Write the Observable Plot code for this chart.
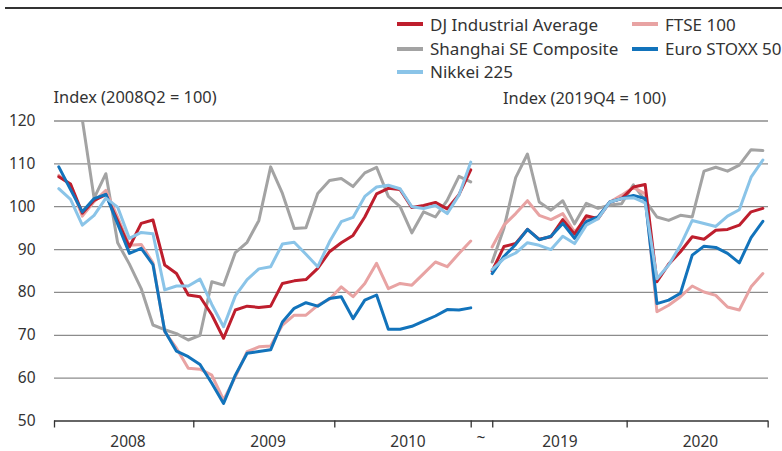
<!DOCTYPE html>
<html><head><meta charset="utf-8">
<script src="https://cdn.jsdelivr.net/npm/d3@7"></script>
<script src="https://cdn.jsdelivr.net/npm/@observablehq/plot@0.6"></script>
<style>
body{margin:0;background:#fff;font-family:"Noto Sans",sans-serif;color:#333}
#wrap{position:relative;width:782px;height:451px;overflow:hidden}
#rule{position:absolute;left:5px;right:0;top:7px;height:2px;background:#333}
#chart{position:absolute;left:0;top:0}
#legend{position:absolute;left:0;top:0;width:782px;height:90px}
.item{position:absolute;height:24px;display:flex;align-items:center;font-size:17px;white-space:nowrap;color:#333}
.sw{width:26px;height:4px;margin-right:7px;flex:none}
</style></head>
<body><div id="wrap"><div id="chart"></div><div id="rule"></div><div id="legend"></div></div>
<script>
// Series names, in legend order
const seriesNames = ["DJ Industrial Average", "FTSE 100", "Shanghai SE Composite", "Euro STOXX 50", "Nikkei 225"];
const seriesColors = ["#be1e2d", "#e8a3a3", "#a3a3a3", "#1273bb", "#8ac4e8"];

// Left panel: monthly, 2008-2010 (2008Q2 = 100)
const djLeft = [107, 105.3, 98.5, 101.5, 102.8, 96.7, 90.6, 96.1, 96.9, 86.4, 84.4, 79.4, 79.0, 74.8, 69.3, 75.9, 76.8, 76.5, 76.8, 82.1, 82.7, 83.0, 85.6, 89.5, 91.6, 93.3, 97.6, 103.0, 104.3, 104.0, 99.8, 100.3, 101.0, 99.5, 102.8, 108.6];
const ftseLeft = [107.3, 105, 97.8, 101.2, 103.8, 97.5, 91.0, 91.2, 86.9, 70.8, 67.0, 62.3, 62.1, 60.7, 54.9, 60.3, 66.2, 67.3, 67.5, 72.4, 74.7, 74.7, 77.0, 78.4, 81.3, 79.0, 82.1, 86.8, 80.9, 82.1, 81.7, 84.4, 87.1, 86.0, 89.1, 92.0];
const shanghaiLeft = [145, 133, 120.3, 102.0, 107.7, 91.6, 86.6, 80.9, 72.4, 71.3, 70.4, 68.9, 70.0, 82.5, 81.7, 89.3, 91.7, 96.8, 109.3, 103.1, 94.9, 95.1, 103.1, 106.1, 106.6, 104.7, 107.9, 109.2, 102.4, 100.0, 93.9, 98.8, 97.6, 101.5, 107.1, 105.8];
const euroLeft = [109.3, 104, 98.8, 101.9, 102.9, 96, 89.1, 90.3, 86.5, 71.0, 66.3, 65.0, 63.2, 58.8, 54.1, 60.7, 65.8, 66.2, 66.6, 73.1, 76.3, 77.6, 76.8, 78.6, 79.0, 73.9, 78.2, 79.4, 71.4, 71.4, 72.1, 73.3, 74.5, 76.0, 75.9, 76.4];
const nikkeiLeft = [104.2, 101.7, 95.7, 98.0, 102.0, 99.9, 92.6, 94.0, 93.7, 80.6, 81.5, 81.5, 83.1, 77.2, 72.0, 79.2, 83.0, 85.5, 86.0, 91.3, 91.7, 88.9, 86.0, 91.8, 96.5, 97.5, 102.4, 104.6, 105.0, 104.2, 100.0, 99.6, 100.3, 98.4, 102.7, 110.4];

// Right panel: monthly, 2019-2020 (2019Q4 = 100)
const djRight = [85.0, 90.7, 91.4, 94.7, 92.4, 93.0, 97.0, 93.6, 97.9, 97.2, 101.1, 101.9, 104.6, 105.2, 82.5, 86.6, 89.5, 93.0, 92.4, 94.5, 94.7, 95.7, 98.8, 99.6];
const ftseRight = [90.6, 95.7, 98.4, 101.4, 98.0, 97.0, 98.4, 94.1, 97.2, 97.6, 101.1, 102.7, 104.5, 103.0, 75.5, 77.0, 79.0, 81.5, 80.1, 79.3, 76.6, 75.9, 81.3, 84.4];
const shanghaiRight = [87.1, 95.0, 106.8, 112.3, 101.1, 99.2, 101.4, 96.0, 100.8, 99.6, 100.4, 100.7, 105.1, 101.5, 97.6, 96.8, 98.0, 97.6, 108.3, 109.2, 108.3, 109.7, 113.3, 113.1];
const euroRight = [84.4, 88.4, 91.2, 94.7, 92.3, 93.1, 96.1, 92.6, 96.5, 97.6, 101.1, 101.9, 102.6, 101.9, 77.4, 78.2, 79.8, 88.7, 90.8, 90.5, 89.1, 86.9, 92.8, 96.6];
const nikkeiRight = [85.3, 87.9, 89.2, 91.6, 91.0, 90.0, 93.1, 91.4, 95.7, 97.2, 101.1, 101.9, 102.1, 100.9, 83.2, 86.4, 91.0, 96.8, 96.1, 95.4, 97.8, 99.3, 106.9, 110.9];

// Axis labels
const yTicks = [50, 60, 70, 80, 90, 100, 110, 120];
const yearLabels = ["2008", "2009", "2010", "2019", "2020"];
const leftTitle = "Index (2008Q2 = 100)";
const rightTitle = "Index (2019Q4 = 100)";

// ---- layout (month-slot coordinates) ----
const RIGHT_START = 36.82;
const boundaries = [-0.365, 11.47, 23.45, 35.04, 36.87, 48.29, 60.27];
const yearLabelPos = [5.88, 17.78, 29.67, 42.58, 54.52];
const breakPos = 35.87;

const leftSets = [djLeft, ftseLeft, shanghaiLeft, euroLeft, nikkeiLeft];
const rightSets = [djRight, ftseRight, shanghaiRight, euroRight, nikkeiRight];
const drawOrder = [2, 1, 0, 3, 4];

const rows = [];
for (const k of drawOrder) {
  leftSets[k].forEach((v, i) => rows.push({s: seriesNames[k], seg: seriesNames[k] + "L", pos: i, v}));
  rightSets[k].forEach((v, j) => rows.push({s: seriesNames[k], seg: seriesNames[k] + "R", pos: RIGHT_START + j, v}));
}

const chart = Plot.plot({
  width: 782, height: 451,
  marginLeft: 54, marginRight: 14, marginTop: 120.5, marginBottom: 30.5,
  style: {fontFamily: "Noto Sans", fontSize: "15.5px", color: "#333", background: "white"},
  x: {domain: [-0.365, 60.3]},
  y: {domain: [50, 120]},
  color: {domain: seriesNames, range: seriesColors},
  marks: [
    Plot.ruleY(yTicks.filter(d => d > 50), {stroke: "#8c8c8c", strokeWidth: 1.3}),
    Plot.ruleY([50], {stroke: "#333", strokeWidth: 1.5}),
    Plot.axisX(boundaries, {tickSize: 7, tickFormat: () => "", stroke: "#333", strokeWidth: 1.3, label: null}),
    Plot.axisY(yTicks, {tickSize: 0, tickPadding: 19, fontSize: 15.5, fill: "#333", label: null}),
    Plot.text(yearLabels, {x: (d, i) => yearLabelPos[i], text: d => d, frameAnchor: "bottom", lineAnchor: "middle", dy: 21, fontSize: 15.5, fill: "#333"}),
    Plot.text(["~"], {x: [breakPos], text: d => d, frameAnchor: "bottom", lineAnchor: "middle", dy: 17, fontSize: 15.5, fill: "#333"}),
    Plot.text([leftTitle], {text: d => d, frameAnchor: "top-left", lineAnchor: "middle", textAnchor: "start", dx: -1, dy: -23, fontSize: 16.4, fill: "#333"}),
    Plot.text([rightTitle], {x: [44.67], text: d => d, frameAnchor: "top", lineAnchor: "middle", dy: -22, fontSize: 16.4, fill: "#333"}),
    Plot.line(rows, {x: "pos", y: "v", z: "seg", stroke: "s", strokeWidth: 3, clip: true})
  ]
});
document.getElementById("chart").appendChild(chart);

// Legend
const legendPos = [[397, 24], [632, 24], [397, 48.7], [632, 48.7], [397, 71.7]];
const legend = document.getElementById("legend");
seriesNames.forEach((name, k) => {
  const it = document.createElement("div");
  it.className = "item";
  it.style.left = legendPos[k][0] + "px";
  it.style.top = (legendPos[k][1] - 12) + "px";
  it.innerHTML = `<span class="sw" style="background:${seriesColors[k]}"></span><span>${name}</span>`;
  legend.appendChild(it);
});
</script>
</body></html>
